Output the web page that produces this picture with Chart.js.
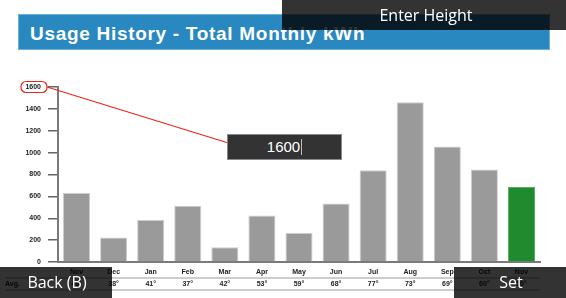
<!DOCTYPE html>
<html><head><meta charset="utf-8">
<script src="https://cdn.jsdelivr.net/npm/chart.js@4"></script>
<style>
html,body{margin:0;padding:0;background:#fff}
body{width:566px;height:298px;overflow:hidden;position:relative;font-family:'Open Sans','Noto Sans',sans-serif}
#banner{position:absolute;left:18px;top:14px;width:532px;height:36px;box-sizing:border-box;background:#2a88c0;border:1px solid #6fb0d8;color:#fff;font:bold 19px 'Liberation Sans',Arial,sans-serif;letter-spacing:0.7px;line-height:34px;padding:2px 0 0 11px;white-space:nowrap}
#c{position:absolute;left:0;top:0}
.ov{position:absolute;background:rgba(0,0,0,0.8);color:#fff;text-align:center;font-size:16px;box-sizing:border-box;white-space:nowrap}
#inp{position:absolute;left:227px;top:134px;width:115px;height:26px;box-sizing:border-box;background:#333;border:1px solid #8a8a8a;color:#fff;text-align:center;font:15px 'Liberation Sans',Arial,sans-serif;line-height:24px}
#inp span{display:inline-block;width:1px;height:16px;background:#bbb;vertical-align:-3px;margin-left:1px}
</style></head><body>
<div id="banner">Usage History - Total Monthly kWh</div>
<canvas id="c" width="566" height="298"></canvas>
<div class="ov" style="left:282px;top:0;width:284px;height:30px;line-height:30px;padding-left:4px">Enter Height</div>
<div id="inp">1600<span></span></div>
<div class="ov" style="left:0;top:267px;width:112px;height:31px;line-height:31px;padding-left:2px">Back (B)</div>
<div class="ov" style="left:454px;top:267px;width:112px;height:31px;line-height:31px;padding-left:2px">Set</div>
<script>
const months = ['Nov','Dec','Jan','Feb','Mar','Apr','May','Jun','Jul','Aug','Sep','Oct','Nov'];
const kwh = [630, 225, 385, 515, 135, 425, 265, 535, 840, 1460, 1055, 845, 685];
const avgTemps = ['48°','38°','41°','37°','42°','53°','59°','68°','77°','73°','69°','60°','50°'];
const yTickValues = [0, 200, 400, 600, 800, 1000, 1200, 1400, 1600];
const highlightedValue = 1600;

const lastIdx = months.length - 1;
const fills = months.map((m, i) => i === lastIdx ? '#1f8a2e' : '#9a9a9a');
const borders = months.map((m, i) => i === lastIdx ? '#56ad62' : '#cdcdcd');
const smallFont = {family: "'Liberation Sans', Arial, sans-serif", size: 7, weight: 'bold'};

const extras = {
  id: 'extras',
  afterDraw(chart) {
    const {ctx, scales: {x, y}} = chart;
    ctx.save();
    ctx.strokeStyle = '#bdbdbd';
    ctx.lineWidth = 1.5;
    [278, 290].forEach(ly => {
      ctx.beginPath(); ctx.moveTo(6, ly); ctx.lineTo(x.right, ly); ctx.stroke();
    });
    ctx.font = "bold 7px 'Liberation Sans', Arial, sans-serif";
    ctx.fillStyle = '#222';
    ctx.textBaseline = 'middle';
    ctx.textAlign = 'left';
    ctx.fillText('Avg.', 5, 284.5);
    ctx.textAlign = 'center';
    avgTemps.forEach((t, i) => ctx.fillText(t, x.getPixelForValue(i), 284.5));
    const yt = y.getPixelForValue(highlightedValue);
    ctx.strokeStyle = '#e8261c';
    ctx.fillStyle = '#e8261c';
    ctx.lineWidth = 1.2;
    ctx.beginPath();
    ctx.roundRect(21, yt - 5.5, 26, 11, 5);
    ctx.stroke();
    const x0 = 47, y0 = yt, x1 = 251, y1 = 150;
    ctx.beginPath(); ctx.moveTo(x0, y0); ctx.lineTo(x1, y1); ctx.stroke();
    const ang = Math.atan2(y1 - y0, x1 - x0), L = 8, W = 3;
    ctx.beginPath();
    ctx.moveTo(x1, y1);
    ctx.lineTo(x1 - L * Math.cos(ang) + W * Math.sin(ang), y1 - L * Math.sin(ang) - W * Math.cos(ang));
    ctx.lineTo(x1 - L * Math.cos(ang) - W * Math.sin(ang), y1 - L * Math.sin(ang) + W * Math.cos(ang));
    ctx.closePath(); ctx.fill();
    ctx.restore();
  }
};

new Chart(document.getElementById('c'), {
  type: 'bar',
  data: {
    labels: months,
    datasets: [{
      data: kwh,
      backgroundColor: fills,
      borderColor: borders,
      borderWidth: 1,
      categoryPercentage: 1,
      barPercentage: 0.73
    }]
  },
  options: {
    responsive: false,
    animation: false,
    devicePixelRatio: 1,
    layout: {padding: {left: 0, right: 26, top: 87, bottom: 0}},
    plugins: {legend: {display: false}, tooltip: {enabled: false}, title: {display: false}},
    scales: {
      x: {
        grid: {display: true, drawOnChartArea: false, drawTicks: false},
        border: {color: '#7a7a7a', width: 2},
        ticks: {font: smallFont, color: '#222', padding: 6, maxRotation: 0, autoSkip: false},
        afterFit(s) { s.height = 36; }
      },
      y: {
        min: 0, max: 1600,
        afterBuildTicks(s) { s.ticks = yTickValues.map(v => ({value: v})); },
        grid: {drawOnChartArea: false, tickLength: 10, color: '#666', lineWidth: 1.5},
        border: {color: '#7a7a7a', width: 2},
        ticks: {font: smallFont, color: '#222', padding: 7, callback: v => String(v)},
        afterFit(s) { s.width = 58; }
      }
    }
  },
  plugins: [extras]
});
</script>
</body></html>
